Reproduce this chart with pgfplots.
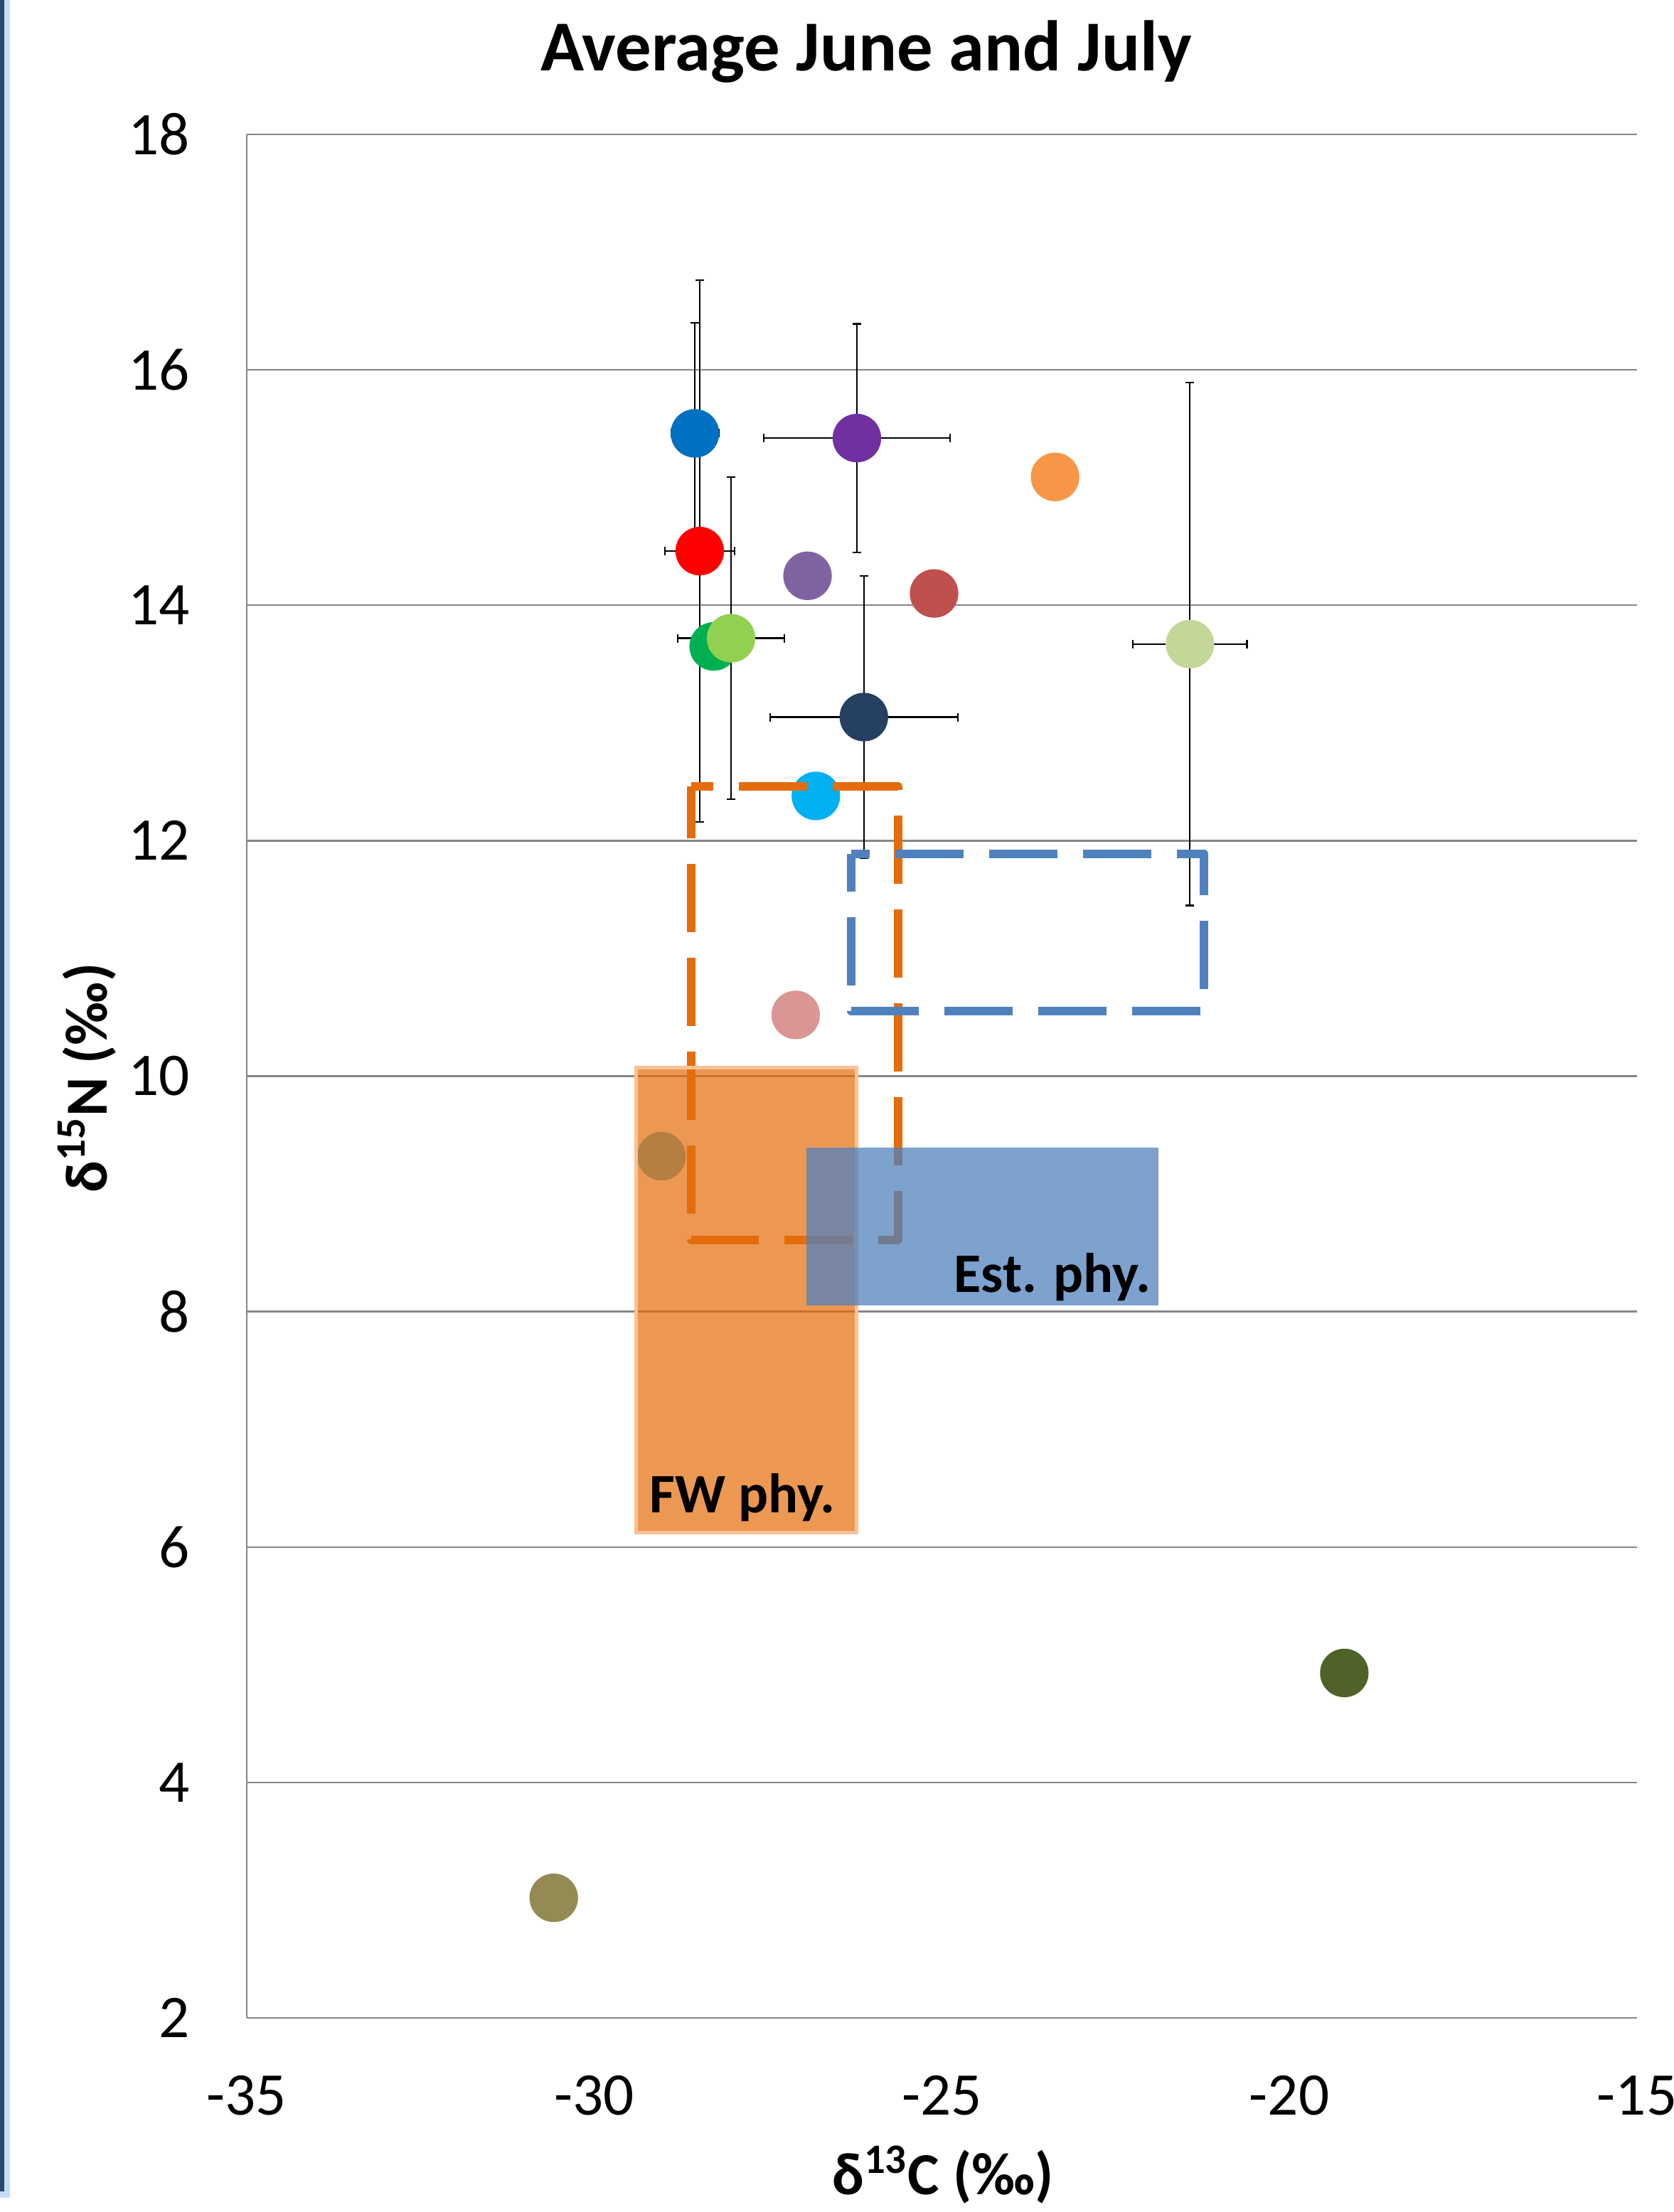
\documentclass[border=0pt]{standalone}
\usepackage{fontspec}
\setmainfont{Carlito}
\usepackage{pgfplots}
\pgfplotsset{compat=1.18}
\definecolor{cA}{HTML}{948A54}
\definecolor{cB}{HTML}{4F6228}
\definecolor{cC}{HTML}{4BACC6}
\definecolor{cD}{HTML}{DA9694}
\definecolor{cE}{HTML}{00B0F0}
\definecolor{cF}{HTML}{254061}
\definecolor{cG}{HTML}{C4D79B}
\definecolor{cH}{HTML}{00B050}
\definecolor{cI}{HTML}{92D050}
\definecolor{cJ}{HTML}{C0504D}
\definecolor{cK}{HTML}{8064A2}
\definecolor{cL}{HTML}{0070C0}
\definecolor{cM}{HTML}{7030A0}
\definecolor{cN}{HTML}{FF0000}
\definecolor{cO}{HTML}{F79646}
\definecolor{orgline}{HTML}{E46C0A}
\definecolor{blueline}{HTML}{4F81BD}
\definecolor{fwborder}{HTML}{F9C196}
\definecolor{gridgray}{HTML}{868686}
\definecolor{bardark}{HTML}{2A4770}
\definecolor{barlight}{HTML}{C6DDF7}
\newcommand\tickfont{\fontsize{21.3}{25}\selectfont}
\newcommand\labfont{\fontsize{21}{25}\selectfont\bfseries}
\newcommand\titlefont{\fontsize{25.2}{30}\selectfont\bfseries}
\newcommand\boxfont{\fontsize{19.6}{23}\selectfont\bfseries}
\pgfplotsset{
  dot/.style={only marks, mark=*, mark size=8.33pt, color=#1, mark options={solid, draw=#1, fill=#1}},
  ebv/.style={black, line width=0.55pt, mark=-, mark size=1.5pt, mark options={solid, line width=0.55pt}, forget plot},
  ebh/.style={black, line width=0.55pt, mark=|, mark size=1.5pt, mark options={solid, line width=0.55pt}, forget plot},
}
\begin{document}
\begin{tikzpicture}
\useasboundingbox (0,0) rectangle (588.25pt,777.75pt);
\fill[barlight] (0,5pt) rectangle (3.4pt,777.75pt);
\fill[bardark] (0,7.25pt) rectangle (1.6pt,777.75pt);
\begin{axis}[
  at={(86.625pt,68.25pt)}, anchor=south west,
  scale only axis, width=488.875pt, height=662.25pt,
  xmin=-35, xmax=-15, ymin=2, ymax=18,
  clip=false, clip marker paths=true,
  axis line style={draw=none},
  major tick length=0pt,
  ymajorgrids,
  major grid style={draw=gridgray, line width=0.6pt},
  xtick={-35,-30,-25,-20,-15},
  xticklabels={-35,-30,-25,-20,-15},
  ytick={2,4,6,8,10,12,14,16,18},
  yticklabels={2,4,6,8,10,12,14,16,18},
  xticklabel style={font=\tickfont, anchor=base, inner sep=0pt, yshift=-34.25pt},
  yticklabel style={font=\tickfont, anchor=east, inner sep=0pt, xshift=-19.7pt},
]
\draw[gridgray, line width=0.5pt] (axis description cs:0,0) -- (axis description cs:0,1);
% error bars (drawn below all markers): mean -+ error
% blue (-28.55,15.46) +- (0.34,0.94)
\addplot[ebv] coordinates {(-28.55,14.52) (-28.55,16.40)};
\addplot[ebh] coordinates {(-28.89,15.46) (-28.21,15.46)};
% red (-28.48,14.46) +- (0.50,2.30)
\addplot[ebv] coordinates {(-28.48,12.16) (-28.48,16.76)};
\addplot[ebh] coordinates {(-28.98,14.46) (-27.98,14.46)};
% purple (-26.22,15.42) +- (1.34,0.97)
\addplot[ebv] coordinates {(-26.22,14.45) (-26.22,16.39)};
\addplot[ebh] coordinates {(-27.56,15.42) (-24.88,15.42)};
% light green (-28.03,13.72) +- (0.77,1.37)
\addplot[ebv] coordinates {(-28.03,12.35) (-28.03,15.09)};
\addplot[ebh] coordinates {(-28.80,13.72) (-27.26,13.72)};
% navy (-26.12,13.05) +- (1.35,1.20)
\addplot[ebv] coordinates {(-26.12,11.85) (-26.12,14.25)};
\addplot[ebh] coordinates {(-27.47,13.05) (-24.77,13.05)};
% light olive (-21.43,13.67) +- (0.82,2.22)
\addplot[ebv] coordinates {(-21.43,11.45) (-21.43,15.89)};
\addplot[ebh] coordinates {(-22.25,13.67) (-20.61,13.67)};
% markers
\addplot[dot=cA] coordinates {(-30.58,3.02)};
\addplot[dot=cB] coordinates {(-19.21,4.93)};
\addplot[dot=cC] coordinates {(-29.03,9.32)};
\addplot[dot=cD] coordinates {(-27.10,10.52)};
\addplot[dot=cE] coordinates {(-26.81,12.38)};
\addplot[dot=cF] coordinates {(-26.12,13.05)};
\addplot[dot=cG] coordinates {(-21.43,13.67)};
\addplot[dot=cH] coordinates {(-28.28,13.65)};
\addplot[dot=cI] coordinates {(-28.03,13.72)};
\addplot[dot=cJ] coordinates {(-25.11,14.10)};
\addplot[dot=cK] coordinates {(-26.93,14.25)};
\addplot[dot=cL] coordinates {(-28.55,15.46)};
\addplot[dot=cM] coordinates {(-26.22,15.42)};
\addplot[dot=cN] coordinates {(-28.48,14.46)};
\addplot[dot=cO] coordinates {(-23.37,15.09)};
% overlay shapes
\addplot[draw=orgline, line width=3pt, dash pattern=on 24pt off 9pt, dash phase=16.25pt, line join=round, line cap=butt, mark=none]
  coordinates {(-28.60,12.46) (-25.63,12.46) (-25.63,8.61) (-28.60,8.61)} -- cycle;
\addplot[draw=blueline, line width=3pt, dash pattern=on 24pt off 9pt, dash phase=17.5pt, line join=round, line cap=butt, mark=none]
  coordinates {(-26.30,11.89) (-21.23,11.89) (-21.23,10.55) (-26.30,10.55)} -- cycle;
\addplot[fill=orgline, fill opacity=0.7, draw=fwborder, line width=1.25pt, mark=none]
  coordinates {(-29.40,10.07) (-26.22,10.07) (-26.22,6.12) (-29.40,6.12)} -- cycle;
\addplot[fill=blueline, fill opacity=0.74, draw=none, mark=none]
  coordinates {(-26.95,9.39) (-21.88,9.39) (-21.88,8.05) (-26.95,8.05)} -- cycle;
\node[anchor=base west, inner sep=0pt, font=\boxfont] at (axis cs:-29.21,6.29) {FW phy.};
\node[anchor=base east, inner sep=0pt, font=\boxfont] at (axis cs:-21.99,8.165) {Est. phy.};
\end{axis}
\node[anchor=base, inner sep=0pt, font=\titlefont] at (304.5pt,752.75pt) {Average June and July};
\node[anchor=base, inner sep=0pt, font=\labfont] at (331.5pt,6.1pt) {δ\textsuperscript{13}C (‰)};
\node[rotate=90, anchor=base, inner sep=0pt, font=\labfont] at (37.5pt,398.75pt) {δ\textsuperscript{15}N (‰)};
\end{tikzpicture}
\end{document}
